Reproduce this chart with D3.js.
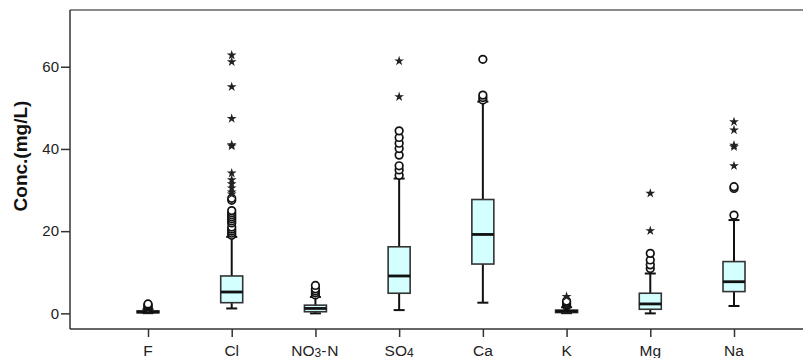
<!DOCTYPE html>
<html><head><meta charset="utf-8">
<script src="https://cdn.jsdelivr.net/npm/d3@7/dist/d3.min.js"></script>
<style>body{margin:0;background:#fff;}svg{display:block;font-family:"Liberation Sans",Arial,sans-serif;}</style>
</head><body><svg id="c" width="803" height="358"></svg>
<script>
const categories = ["F","Cl","NO3-N","SO4","Ca","K","Mg","Na"];
const whiskerLow  = [0.05, 1.2, 0.0, 0.8, 2.6, 0.05, 0.0, 1.8];
const q1          = [0.15, 2.6, 0.4, 4.9, 12.0, 0.2, 1.0, 5.3];
const median      = [0.35, 5.2, 1.2, 9.1, 19.2, 0.5, 2.3, 7.7];
const q3          = [0.6, 9.1, 2.0, 16.2, 27.7, 0.8, 4.9, 12.6];
const whiskerHigh = [1.0, 18.6, 4.0, 32.8, 51.5, 1.5, 9.7, 22.7];
const circleOutliers = [
  [1.2, 1.5, 1.8, 2.1, 2.3],
  [19, 19.5, 20, 20.5, 21, 22, 22.5, 23, 23.5, 24, 24.5, 25, 27.5, 28],
  [4.5, 5.0, 5.5, 6.0, 6.8],
  [33.6, 34.9, 35.9, 38.5, 40.1, 41.4, 42.8, 44.4],
  [51.9, 52.5, 53.1, 61.8],
  [1.8, 2.1, 2.4, 2.7, 3.0],
  [10.9, 11.8, 13.0, 14.6],
  [23.9, 30.4, 30.8]
];
const starOutliers = [
  [],
  [29, 29.5, 30.5, 31.5, 32.5, 34.1, 40.7, 41.0, 47.4, 55.1, 61.2, 62.8],
  [],
  [52.7, 61.4],
  [],
  [4.1],
  [20.1, 29.2],
  [35.9, 40.5, 40.9, 44.6, 46.6]
];
const yTicks = [0, 20, 40, 60];
const yTitle = "Conc.(mg/L)";

const svg = d3.select("#c");
const x = d3.scalePoint().domain(categories).range([148, 734]);
const y = d3.scaleLinear().domain([-3.8, 73.8]).range([329, 10]);
const pLeft = 70, pTop = 10, pBottom = 329, pRight = 803;
const bw = 22, cap = 11;

// frame
svg.append("line").attr("x1", pLeft).attr("x2", pRight).attr("y1", pTop).attr("y2", pTop)
  .attr("stroke", "#8a8a8a").attr("stroke-width", 2);

// y axis
const ya = svg.append("g").attr("transform", `translate(${pLeft},0)`)
  .call(d3.axisLeft(y).tickValues(yTicks).tickSize(9).tickPadding(2));
ya.select(".domain").attr("d", `M0,${pTop}V${pBottom}`).attr("stroke", "#333").attr("stroke-width", 1.5);
ya.selectAll(".tick line").attr("stroke", "#333").attr("stroke-width", 1.5);
ya.selectAll(".tick text").attr("font-size", 15).attr("fill", "#222")
  .attr("font-family", '"Liberation Sans",Arial,sans-serif');

// x axis
const xa = svg.append("g").attr("transform", `translate(0,${pBottom})`)
  .call(d3.axisBottom(x).tickSize(8).tickFormat(""));
xa.select(".domain").attr("d", `M${pLeft},0H${pRight}`).attr("stroke", "#333").attr("stroke-width", 1.5);
xa.selectAll(".tick line").attr("stroke", "#333").attr("stroke-width", 1.5);

// x labels with subscripts
categories.forEach(c => {
  const t = svg.append("text").attr("x", x(c)).attr("y", 355.5).attr("text-anchor", "middle")
    .attr("font-size", 15.5).attr("fill", "#222");
  const m = c.match(/^([A-Za-z]+)(\d)(.*)$/);
  if (m) {
    t.append("tspan").text(m[1]);
    t.append("tspan").text(m[2]).attr("font-size", 12).attr("dy", 1.5);
    if (m[3]) t.append("tspan").text(m[3]).attr("dy", -1.5).attr("letter-spacing", 1);
  } else t.text(c);
});

// y title
svg.append("text").attr("transform", "translate(27,156) rotate(-90)")
  .attr("text-anchor", "middle").attr("font-size", 19).attr("font-weight", "bold")
  .attr("fill", "#111").text(yTitle);

// boxes
const g = svg.append("g");
categories.forEach((c, i) => {
  const cx = x(c);
  const gg = g.append("g");
  gg.append("line").attr("x1", cx).attr("x2", cx).attr("y1", y(whiskerLow[i])).attr("y2", y(q1[i]))
    .attr("stroke", "#111").attr("stroke-width", 2);
  gg.append("line").attr("x1", cx).attr("x2", cx).attr("y1", y(q3[i])).attr("y2", y(whiskerHigh[i]))
    .attr("stroke", "#111").attr("stroke-width", 2);
  gg.append("line").attr("x1", cx - cap/2).attr("x2", cx + cap/2).attr("y1", y(whiskerLow[i])).attr("y2", y(whiskerLow[i]))
    .attr("stroke", "#111").attr("stroke-width", 2);
  gg.append("line").attr("x1", cx - cap/2).attr("x2", cx + cap/2).attr("y1", y(whiskerHigh[i])).attr("y2", y(whiskerHigh[i]))
    .attr("stroke", "#111").attr("stroke-width", 2);
  gg.append("rect").attr("x", cx - bw/2).attr("width", bw)
    .attr("y", y(q3[i])).attr("height", Math.max(1, y(q1[i]) - y(q3[i])))
    .attr("fill", "#d4ffff").attr("stroke", "#333").attr("stroke-width", 1.6);
  gg.append("line").attr("x1", cx - bw/2).attr("x2", cx + bw/2).attr("y1", y(median[i])).attr("y2", y(median[i]))
    .attr("stroke", "#111").attr("stroke-width", 2.8);
  circleOutliers[i].forEach(v => {
    gg.append("circle").attr("cx", cx).attr("cy", y(v)).attr("r", 3.8)
      .attr("fill", "#fff").attr("stroke", "#111").attr("stroke-width", 1.7);
  });
  starOutliers[i].forEach(v => {
    gg.append("path").attr("d", d3.symbol(d3.symbolStar, 30)())
      .attr("transform", `translate(${cx},${y(v)})`).attr("fill", "#222");
  });
});
</script></body></html>
